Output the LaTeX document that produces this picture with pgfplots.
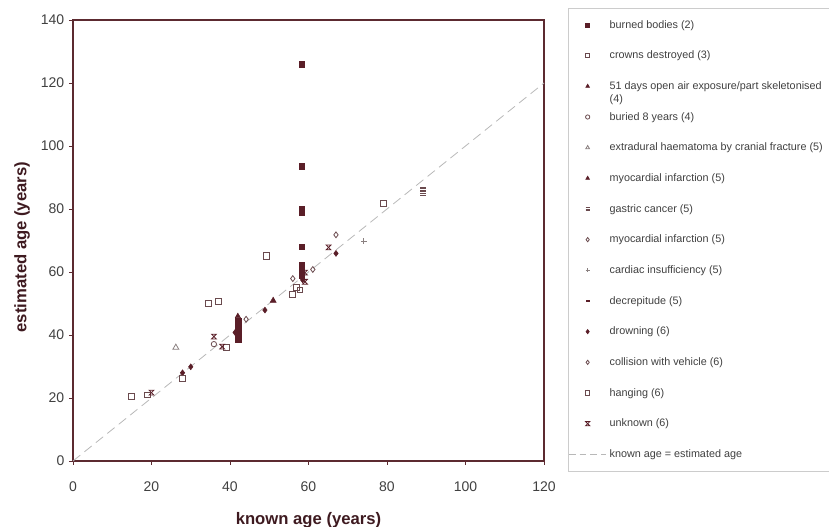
\documentclass[border=0pt]{standalone}
\usepackage{pgfplots}
\pgfplotsset{compat=1.18}
\usetikzlibrary{calc}
\usepackage{fontspec}
\setmainfont{Liberation Sans}
\definecolor{mar}{HTML}{5A1E28}
\definecolor{axc}{HTML}{5C2A30}
\definecolor{tl}{HTML}{404040}
\definecolor{lbl}{HTML}{3E1A20}
\definecolor{opn}{HTML}{6A4A4E}
\definecolor{gry}{HTML}{8A8080}
\pgfdeclareplotmark{gastric}{%
  \pgfpathmoveto{\pgfqpoint{-\pgfplotmarksize}{0.7\pgfplotmarksize}}%
  \pgfpathlineto{\pgfqpoint{\pgfplotmarksize}{0.7\pgfplotmarksize}}%
  \pgfpathmoveto{\pgfqpoint{-\pgfplotmarksize}{0pt}}%
  \pgfpathlineto{\pgfqpoint{\pgfplotmarksize}{0pt}}%
  \pgfpathmoveto{\pgfqpoint{-\pgfplotmarksize}{-0.7\pgfplotmarksize}}%
  \pgfpathlineto{\pgfqpoint{\pgfplotmarksize}{-0.7\pgfplotmarksize}}%
  \pgfusepathqstroke}
\pgfdeclareplotmark{hourglass}{%
  \pgfpathmoveto{\pgfqpoint{-\pgfplotmarksize}{\pgfplotmarksize}}%
  \pgfpathlineto{\pgfqpoint{\pgfplotmarksize}{\pgfplotmarksize}}%
  \pgfpathlineto{\pgfqpoint{-\pgfplotmarksize}{-\pgfplotmarksize}}%
  \pgfpathlineto{\pgfqpoint{\pgfplotmarksize}{-\pgfplotmarksize}}%
  \pgfpathclose
  \pgfusepathqstroke}
\pgfplotsset{
  mk/.style={only marks, legend image code/.code={\path (0pt,0pt) (28pt,0pt); \draw[##1, mark size=1.6pt] plot coordinates {(14pt,0pt)};}},
  lineleg/.style={legend image code/.code={\draw[##1] (0pt,0pt)--(28pt,0pt);}}
}
\begin{document}
\begin{tikzpicture}
\begin{axis}[
  width=353.25pt, height=330.75pt, scale only axis,
  xmin=0, xmax=120, ymin=0, ymax=140,
  xtick={0,20,...,120}, ytick={0,20,...,140},
  xtick pos=left, ytick pos=left,
  tick align=outside, major tick length=3pt,
  axis line style={axc, line width=1pt},
  tick style={axc, line width=0.6pt},
  /pgf/number format/assume math mode=true,
  ticklabel style={font=\fontsize{10.5}{12}\selectfont, text=tl},
  xticklabel style={yshift=-9pt},
  xlabel={known age (years)}, ylabel={estimated age (years)},
  label style={font=\fontsize{12.5}{14}\selectfont\bfseries, text=lbl},
  xlabel style={at={(axis description cs:0.5,-0.1338)}, anchor=center},
  ylabel style={at={(axis description cs:-0.1083,0.485)}, anchor=center},
  legend style={at={(axis description cs:1,1)}, anchor=north west, xshift=18pt, yshift=9pt,
    font=\fontsize{8.1}{10}\selectfont, text=tl, draw=black!20, line width=0.5pt,
    inner xsep=0pt, inner ysep=7.5pt, row sep=13pt, column sep=1pt,
    nodes={inner sep=1pt, text height=6.5pt, text depth=1.5pt}},
  legend cell align=left,
  clip=false
]
\addplot[forget plot, color=black!28, line width=0.6pt, dash pattern=on 7pt off 4pt] coordinates {(0,0) (120,120)};
% burned bodies
\addplot[mk, mark=square*, mark size=2.2pt, color=mar] coordinates {
 (58.3,126) (58.3,93.7) (58.3,80) (58.3,79) (58.3,68) (58.3,62) (58.3,60.5) (58.3,59)
 (42,38.5) (42,40) (42,41.5) (42,43) (42,44.5)};
\addlegendentry{burned bodies (2)}
% crowns destroyed
\addplot[mk, mark=square, mark size=2.3pt, color=opn, line width=0.6pt] coordinates {
 (34.5,50.1) (37,50.6) (49.3,65.1)};
\addlegendentry{crowns destroyed (3)}
% 51 days
\addplot[mk, mark=triangle*, mark size=2.2pt, color=mar] coordinates {(42,46)};
\addlegendentry{\smash{\begin{tabular}[t]{@{}l@{}}51 days open air exposure/part skeletonised\\(4)\end{tabular}}}
% buried 8 years
\addplot[mk, mark=o, mark size=2pt, color=opn, line width=0.6pt] coordinates {(35.9,37.1)};
\addlegendentry{buried 8 years (4)}
% extradural
\addplot[mk, mark=triangle, mark size=2.6pt, color=gry, line width=0.6pt] coordinates {(26.2,36)};
\addlegendentry{extradural haematoma by cranial fracture (5)\hspace*{20pt}}
% myocardial infarction triangle
\addplot[mk, mark=triangle*, mark size=2.6pt, color=mar] coordinates {(51,50.9)};
\addlegendentry{myocardial infarction (5)}
% gastric cancer
\addplot[mk, mark=gastric, mark size=2pt, color=opn, line width=0.6pt] coordinates {(89.2,85) (89.2,86.4)};
\addlegendentry{gastric cancer (5)}
% myocardial infarction diamond
\addplot[mk, mark=diamond, mark size=2.2pt, color=opn, line width=0.6pt] coordinates {(44.1,45) (56,57.9)};
\addlegendentry{myocardial infarction (5)}
% cardiac insufficiency
\addplot[mk, mark=+, mark size=2pt, color=gry, line width=0.6pt] coordinates {(74.1,69.8)};
\addlegendentry{cardiac insufficiency (5)}
% decrepitude
\addplot[mk, mark=-, mark size=2.2pt, color=mar, line width=1pt] coordinates {(58.3,58)};
\addlegendentry{decrepitude (5)}
% drowning
\addplot[mk, mark=diamond*, mark size=2.2pt, color=mar] coordinates {
 (27.9,28) (30,29.9) (41.3,40.8) (48.9,47.9) (67,65.9) (58.5,57.5)};
\addlegendentry{drowning (6)}
% collision with vehicle
\addplot[mk, mark=diamond, mark size=2.2pt, color=opn, line width=0.6pt] coordinates {(61.1,60.8) (67,71.8)};
\addlegendentry{collision with vehicle (6)}
% hanging
\addplot[mk, mark=square, mark size=2.2pt, color=opn, line width=0.6pt] coordinates {
 (14.8,20.6) (18.9,21) (27.9,26.2) (39,36.1) (56,53) (57,55.1) (57.8,54.3) (79.1,81.8)};
\addlegendentry{hanging (6)}
% unknown
\addplot[mk, mark=hourglass, mark size=1.8pt, color=mar, line width=0.6pt] coordinates {
 (20,21.7) (35.9,39.5) (38,36.3) (59.1,59.8) (59.1,56.9) (65.1,67.8)};
\addlegendentry{unknown (6)}
\addlegendimage{lineleg, color=black!28, line width=0.6pt, dash pattern=on 5pt off 3pt}
\addlegendentry{known age = estimated age}
\coordinate (O) at (axis cs:0,0);
\end{axis}
\pgfresetboundingbox
\path[use as bounding box] ($(O)+(-54.75pt,-49.5pt)$) rectangle ++(621.75pt,395.25pt);
\end{tikzpicture}
\end{document}
